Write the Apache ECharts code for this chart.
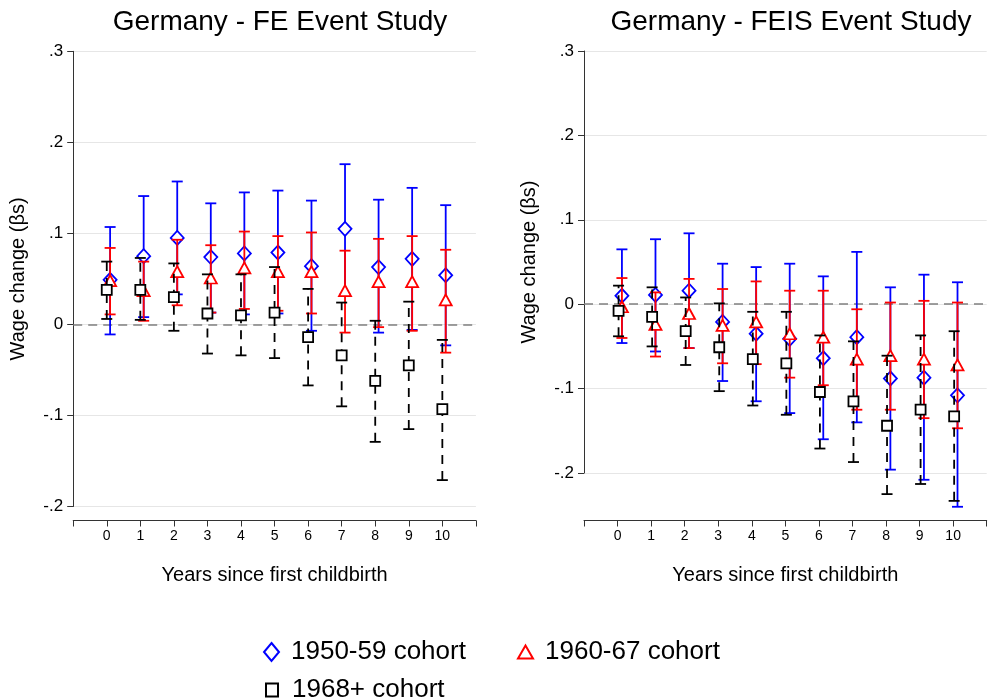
<!DOCTYPE html>
<html>
<head>
<meta charset="utf-8">
<script src="https://cdn.jsdelivr.net/npm/echarts@6/dist/echarts.min.js"></script>
<style>
html,body{margin:0;padding:0;background:#fff;}
#chart{width:990px;height:698px;}
</style>
</head>
<body>
<div id="chart"></div>
<script>
// ---------- data ----------
const years = [0,1,2,3,4,5,6,7,8,9,10];
const cohortNames = ['1950-59 cohort','1960-67 cohort','1968+ cohort'];
const panelTitles = ['Germany - FE Event Study','Germany - FEIS Event Study'];
const yTicks = [-0.2,-0.1,0,0.1,0.2,0.3];
const yTickLabels = ['-.2','-.1','0','.1','.2','.3'];
const xTitle = 'Years since first childbirth';
const yTitle = 'Wage change (\u03b2s)';

// FE panel
const fe50Est = [0.049,0.075,0.095,0.074,0.078,0.079,0.064,0.105,0.063,0.072,0.054];
const fe50Lo  = [-0.011,0.008,0.033,0.013,0.011,0.012,-0.007,0.033,-0.009,-0.006,-0.023];
const fe50Hi  = [0.107,0.141,0.157,0.133,0.145,0.147,0.136,0.176,0.137,0.150,0.131];
const fe60Est = [0.048,0.037,0.058,0.051,0.062,0.058,0.058,0.037,0.047,0.047,0.027];
const fe60Lo  = [0.011,0.004,0.021,0.013,0.017,0.015,0.012,-0.009,-0.003,-0.007,-0.031];
const fe60Hi  = [0.084,0.069,0.093,0.087,0.102,0.097,0.101,0.081,0.094,0.097,0.082];
const fe68Est = [0.038,0.038,0.030,0.012,0.010,0.013,-0.014,-0.034,-0.062,-0.045,-0.093];
const fe68Lo  = [0.006,0.005,-0.007,-0.032,-0.034,-0.037,-0.067,-0.090,-0.129,-0.115,-0.171];
const fe68Hi  = [0.069,0.073,0.067,0.055,0.055,0.063,0.039,0.024,0.004,0.025,-0.017];

// FEIS panel
const fs50Est = [0.010,0.011,0.016,-0.021,-0.035,-0.041,-0.064,-0.039,-0.088,-0.087,-0.108];
const fs50Lo  = [-0.046,-0.056,-0.052,-0.091,-0.115,-0.129,-0.160,-0.140,-0.196,-0.208,-0.240];
const fs50Hi  = [0.065,0.077,0.084,0.048,0.044,0.048,0.033,0.062,0.020,0.035,0.026];
const fs60Est = [-0.003,-0.024,-0.011,-0.025,-0.021,-0.035,-0.039,-0.065,-0.061,-0.065,-0.072];
const fs60Lo  = [-0.040,-0.062,-0.052,-0.070,-0.071,-0.087,-0.096,-0.125,-0.125,-0.135,-0.147];
const fs60Hi  = [0.031,0.014,0.030,0.018,0.027,0.016,0.016,-0.006,0.002,0.004,0.002];
const fs68Est = [-0.008,-0.015,-0.032,-0.051,-0.065,-0.070,-0.104,-0.115,-0.144,-0.125,-0.133];
const fs68Lo  = [-0.038,-0.050,-0.072,-0.103,-0.120,-0.131,-0.171,-0.187,-0.225,-0.213,-0.233];
const fs68Hi  = [0.022,0.020,0.008,0.001,-0.009,-0.009,-0.037,-0.044,-0.061,-0.037,-0.032];

// ---------- styles ----------
const FONT = "Arial, 'Liberation Sans', Helvetica, sans-serif";
const COLORS = ['#0000ff','#ff0000','#000000'];
const SYMBOLS = ['diamond','triangle','rect'];
const SYMSIZE = [[13,14],[12,11],[10,10]];
const AXC = '#333333';

function fmtY(v){
  for (let i=0;i<yTicks.length;i++){ if (Math.abs(v-yTicks[i])<1e-6) return yTickLabels[i]; }
  return '';
}
function fmtX(v){ return years.indexOf(Math.round(v))>=0 && Math.abs(v-Math.round(v))<1e-6 ? String(Math.round(v)) : ''; }

function errRender(color, dashed){
  return function(params, api){
    const x = api.value(0), lo = api.value(1), hi = api.value(2);
    const a = api.coord([x, lo]), b = api.coord([x, hi]);
    const hw = 5.5;
    const st = {stroke: color, lineWidth: 1.8, fill: null};
    return {type:'group', children:[
      {type:'line', shape:{x1:a[0],y1:a[1],x2:b[0],y2:b[1]}, style: Object.assign({}, st, dashed ? {lineDash:[9,7]} : {})},
      {type:'line', shape:{x1:a[0]-hw,y1:a[1],x2:a[0]+hw,y2:a[1]}, style: st},
      {type:'line', shape:{x1:b[0]-hw,y1:b[1],x2:b[0]+hw,y2:b[1]}, style: st}
    ]};
  };
}

const panels = [
  {est:[fe50Est,fe60Est,fe68Est], lo:[fe50Lo,fe60Lo,fe68Lo], hi:[fe50Hi,fe60Hi,fe68Hi], offs:[0.1,0.1,0.0], xIdx:0, yIdx:0},
  {est:[fs50Est,fs60Est,fs68Est], lo:[fs50Lo,fs60Lo,fs68Lo], hi:[fs50Hi,fs60Hi,fs68Hi], offs:[0.13,0.13,0.03], xIdx:1, yIdx:1}
];

const series = [];
panels.forEach((p, pi) => {
  for (let c=0;c<3;c++){
    series.push({
      type:'custom', name: 'err'+pi+'_'+c, xAxisIndex:p.xIdx, yAxisIndex:p.yIdx,
      renderItem: errRender(COLORS[c], c===2),
      encode:{x:0, y:[1,2]},
      data: years.map((yr,i)=>[yr+p.offs[c], p.lo[c][i], p.hi[c][i]]),
      silent:true, z: 2+c*2,
      markLine: c===0 ? {
        silent:true, symbol:['none','none'], label:{show:false},
        lineStyle:{color:'#808080', type:[9,6], width:1.6},
        data:[{yAxis:0}], z:1
      } : undefined
    });
    series.push({
      type:'scatter', name: cohortNames[c], xAxisIndex:p.xIdx, yAxisIndex:p.yIdx,
      symbol: SYMBOLS[c], symbolSize: SYMSIZE[c],
      itemStyle:{color:'#ffffff', borderColor:COLORS[c], borderWidth:1.8, opacity:1},
      data: years.map((yr,i)=>[yr+p.offs[c], p.est[c][i]]),
      silent:true, z: 3+c*2
    });
  }
});
// empty series to anchor the tick-only grid of the right panel
series.push({type:'scatter', name:'_anchor', xAxisIndex:2, yAxisIndex:2, data:[], silent:true});

function xAxisCfg(gridIndex, offset, show){
  return {
    type:'value', gridIndex, min:-1, max:11, interval:1, show,
    offset,
    name: show ? xTitle : '', nameLocation:'middle', nameGap:45,
    nameTextStyle:{fontSize:20, color:'#000', fontFamily:FONT},
    axisLine:{show:true, onZero:false, lineStyle:{color:AXC, width:1}},
    axisTick:{show:true, length:6, lineStyle:{color:AXC, width:1}},
    axisLabel:{show:true, formatter: v => (v<0||v>10) ? '' : fmtX(v), fontSize:14, color:'#000', margin:9, fontFamily:FONT},
    splitLine:{show:false}
  };
}
function yAxisCfg(gridIndex, min, show, withName){
  return {
    type:'value', gridIndex, min, max:0.3, interval:0.1, show,
    name: withName ? yTitle : '', nameLocation:'middle', nameGap:45,
    nameTextStyle:{fontSize:20, color:'#000', fontFamily:FONT},
    axisLine:{show:true, onZero:false, lineStyle:{color:AXC, width:1}},
    axisTick:{show:true, length:6, lineStyle:{color:AXC, width:1}},
    axisLabel:{formatter: fmtY, fontSize:17, color:'#000', margin:10, fontFamily:FONT},
    splitLine:{show:true, lineStyle:{color:'#e6e6e6', width:1}}
  };
}

const option = {
  backgroundColor:'#ffffff',
  animation:false,
  textStyle:{fontFamily:FONT},
  title:[
    {text: panelTitles[0], left:275, top:3, textAlign:'center', textStyle:{fontSize:28, fontWeight:'normal', color:'#000', fontFamily:FONT}},
    {text: panelTitles[1], left:786, top:3, textAlign:'center', textStyle:{fontSize:28, fontWeight:'normal', color:'#000', fontFamily:FONT}}
  ],
  grid:[
    {left:73.2, top:51.3, width:402.7, height:455.2},
    {left:584, top:51, width:402.7, height:460},
    {left:584, top:51, width:402.7, height:422}
  ],
  xAxis:[ xAxisCfg(0, 14, true), xAxisCfg(1, 9.5, true), xAxisCfg(2, 0, false) ],
  yAxis:[
    yAxisCfg(0, -0.2, true, true),
    {type:'value', gridIndex:1, min:-0.245, max:0.3, show:false, splitLine:{show:false}},
    yAxisCfg(2, -0.2, true, true)
  ],
  legend:[
    {data:[{name:cohortNames[0], icon:'diamond'}], left:258, top:634, itemWidth:15, itemHeight:18, selectedMode:false,
     textStyle:{fontSize:26, color:'#000', fontFamily:FONT, padding:[0,0,0,7]}},
    {data:[{name:cohortNames[1], icon:'triangle'}], left:512, top:634, itemWidth:15, itemHeight:13, selectedMode:false,
     textStyle:{fontSize:26, color:'#000', fontFamily:FONT, padding:[0,0,0,7]}},
    {data:[{name:cohortNames[2], icon:'rect'}], left:260, top:672, itemWidth:12, itemHeight:13, selectedMode:false,
     textStyle:{fontSize:26, color:'#000', fontFamily:FONT, padding:[0,0,0,9]}}
  ],
  series
};

const chart = echarts.init(document.getElementById('chart'), null, {renderer:'canvas'});
chart.setOption(option);
</script>
</body>
</html>
